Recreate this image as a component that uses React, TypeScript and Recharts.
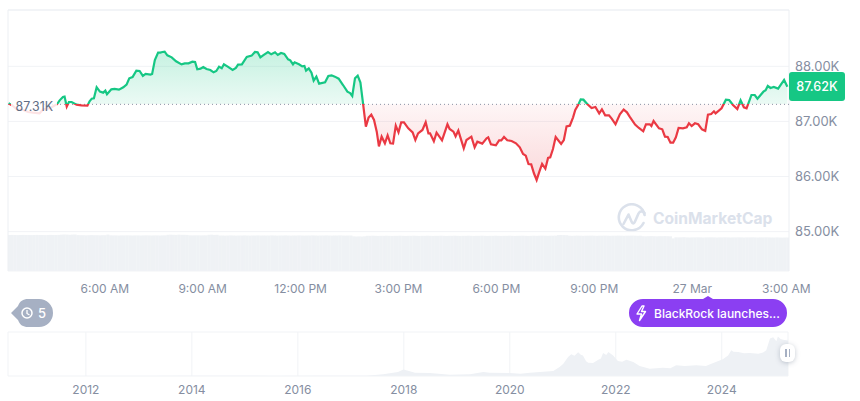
import React from "react";
import {
  ComposedChart, Area, Line, XAxis, YAxis, CartesianGrid, ReferenceLine,
  BarChart, Bar, AreaChart,
} from "recharts";

const FONT = "Inter, 'Noto Sans', sans-serif";
const BASE = 87310;
const LAST_PRICE = "87.62K";
const BASE_LABEL = "87.31K";

// minutes after 00:00 on 26 Mar
const minutes = [183,191,198,210,219,228,240,247,259,272,277,283,286,290,294,299,308,317,328,332,336,340,345,351,357,361,364,372,378,386,394,400,405,411,418,424,430,435,444,447,452,458,462,466,470,475,483,491,501,507,514,521,526,530,536,541,547,554,560,565,570,575,579,586,595,601,605,612,621,630,636,641,646,651,660,666,673,678,684,690,697,701,706,709,717,723,727,730,735,740,744,749,754,765,771,777,783,790,798,806,811,815,820,825,830,835,840,845,850,855,860,864,869,875,880,885,890,895,900,905,910,918,926,931,936,944,950,955,958,965,970,980,990,994,1001,1005,1010,1020,1025,1034,1040,1045,1054,1062,1065,1070,1079,1085,1089,1094,1100,1108,1116,1123,1129,1134,1139,1144,1149,1154,1159,1164,1170,1175,1179,1184,1189,1199,1204,1209,1215,1221,1225,1230,1235,1240,1247,1255,1262,1269,1274,1280,1287,1292,1299,1307,1314,1320,1325,1335,1342,1350,1355,1362,1365,1369,1379,1385,1390,1395,1400,1405,1410,1415,1423,1430,1434,1439,1445,1451,1458,1464,1469,1475,1480,1483,1494,1502,1508,1515,1523,1529,1535,1540,1549,1555,1560,1571,1575,1579,1584,1590,1598,1609,1615];
const prices = [87329,87280,87220,87208,87171,87159,87147,87220,87238,87311,87383,87444,87450,87268,87353,87353,87304,87292,87286,87365,87413,87419,87619,87540,87522,87558,87492,87583,87589,87577,87619,87667,87782,87806,87921,87915,87825,87861,87849,87861,88115,88248,88248,88260,88266,88200,88163,88091,88036,88054,88054,88085,88079,87946,87958,87988,87952,87933,87891,87915,87994,87964,88036,87994,87933,87970,88030,88036,88169,88194,88260,88254,88163,88200,88260,88218,88254,88206,88242,88224,88127,88109,88036,88073,88036,88000,88006,87921,87964,87885,87740,87813,87686,87710,87825,87837,87813,87776,87661,87540,87516,87462,87782,87831,87704,87311,86905,87069,87123,87026,86815,86548,86724,86603,86748,86603,86597,86923,86802,86984,86984,86875,86802,86663,86784,86845,86984,86784,86784,86639,86796,86657,86948,86863,86815,86730,86833,86512,86663,86724,86530,86633,86597,86694,86712,86585,86567,86657,86657,86718,86657,86645,86603,86530,86409,86379,86228,86222,86059,85938,86089,86228,86143,86337,86349,86500,86718,86591,86663,86911,86923,87075,87208,87292,87401,87395,87317,87244,87262,87147,87220,87111,87111,87050,86948,87129,87214,87165,87087,86942,86881,86821,86948,86948,86917,87008,86875,86857,86724,86718,86615,86615,86712,86881,86875,86893,86966,86917,86966,86948,86857,86827,87123,87135,87184,87147,87238,87395,87389,87298,87226,87383,87256,87238,87480,87480,87413,87540,87565,87643,87607,87625,87595,87752,87631];

const priceTicks = [85000, 86000, 87000, 88000];
const timeTicks = [360, 540, 720, 900, 1080, 1260, 1440, 1613];
const timeLabels = ["6:00 AM", "9:00 AM", "12:00 PM", "3:00 PM", "6:00 PM", "9:00 PM", "27 Mar", "3:00 AM"];

// 24h volume per five-minute bar
const volumes = [
  36,36.1,36,35.9,36,36.1,36,36,35.9,36,36.1,36,36,35.9,36,36.1,36,36,36.1,36.3,36.5,36.4,36.2,36.4,36.5,
  35.9,35.8,35.8,35.7,35.8,35.9,35.8,35.8,35.7,35.8,35.8,36.4,35.7,35.6,35.6,35.5,35.6,35.6,35.7,35.6,35.5,35.6,35.6,35.5,35.6,35.7,35.6,35.5,35.6,35.6,35.5,35.6,35.7,
  36.2,36.3,36.2,36.1,36.3,36.2,36.2,36.1,35.7,35.6,35.7,35.7,35.6,35.7,35.7,36.2,36.3,36.1,36.2,
  35.5,35.5,35.4,35.5,35.6,35.5,35.4,35.5,35.5,35.6,35.5,35.4,35.5,35.5,35.6,35.5,35.4,35.5,35.5,35.6,35.5,35.4,35.5,35.5,35.6,35.5,35.4,35.5,35.5,35.6,35.5,35.4,35.5,35.5,35.6,35.5,35.4,35.5,35.5,35.6,35.5,35.4,35.5,35.5,35.6,35.5,35.4,35.5,35.5,
  34.7,34.5,34.6,34.5,34.7,
  35.2,35.2,35.3,35.2,35.1,35.2,35.2,35.3,35.2,35.1,35.2,35.2,35.3,35.2,35.1,35.2,35.2,35.3,35.2,35.1,35.2,35.2,35.3,35.2,35.1,35.2,35.2,35.3,35.2,35.1,35.2,35.2,35.3,35.2,35.1,35.2,35.2,35.3,35.2,35.1,35.2,35.2,35.3,35.2,35.1,35.2,35.2,35.3,35.2,35.1,35.2,35.2,35.3,35.2,35.1,35.2,35.2,35.3,35.2,35.1,35.2,
  35.3,35.2,35.3,35.4,35.3,35.2,35.3,35.3,35.4,
  35.9,36,35.9,35.8,
  35.3,35.2,35.3,35.4,35.3,35.2,35.3,35.3,35.4,35.3,35.2,35.3,35.3,35.4,35.3,35.2,35.3,35.3,35.4,35.3,35.2,35.3,35.3,35.4,35.3,35.2,35.3,
  34.8,34.7,34.8,34.9,34.8,34.7,34.8,34.8,34.9,34.8,34.7,
  32.6,
  33.7,33.6,33.7,33.8,33.6,33.5,33.6,33.6,33.7,33.6,33.5,33.6,33.6,33.7,33.6,33.5,33.6,33.6,33.7,33.6,33.5,33.6,33.6,33.7,33.6,33.5,33.6,33.6,33.7,33.6,33.5,33.6,33.6,33.7,33.6,33.5,33.5,33.6,33.5,33.4,33.5,33.5,
];

const historyYears = [2010.6,2013.2,2013.9,2015.5,2016.5,2017.3,2017.61,2017.89,2017.99,2018.08,2018.21,2018.49,2018.87,2019.25,2019.5,2019.62,2020,2020.2,2020.38,2020.82,2020.94,2021.01,2021.1,2021.16,2021.22,2021.29,2021.34,2021.38,2021.44,2021.48,2021.57,2021.67,2021.72,2021.76,2021.82,2021.86,2021.95,2022.04,2022.12,2022.2,2022.33,2022.45,2022.64,2022.89,2023.03,2023.14,2023.3,2023.52,2023.7,2023.84,2024.02,2024.12,2024.18,2024.22,2024.31,2024.42,2024.53,2024.69,2024.78,2024.84,2024.91,2024.97,2025.03,2025.06,2025.11,2025.16,2025.25];
const historyPrices = [0,0.1,0.8,0.3,0.7,1,4.5,11,18,14,9,8,3.6,4.5,11,9,8,6,9,13.6,24.5,33.6,52,59,55,64.5,58,56,40,36,35.5,44.5,48,62.7,57,65.5,56,41,39,44.5,38,27,20,22.7,21,29,27,29,27,35.5,45.5,56,70,66,65.5,62,62.7,61,64,70,102,106,95,108,101,99,97];
const yearTicks = [2012, 2014, 2016, 2018, 2020, 2022, 2024];

const priceRows = minutes.map((t, i) => ({ t, price: prices[i] }));
const volumeRows = volumes.map((volume, i) => ({ i, volume }));
const historyRows = historyYears.map((year, i) => ({ year, price: historyPrices[i] }));

const PRICE_DOMAIN: [number, number] = [84286, 89022];
const baseFrac = (PRICE_DOMAIN[1] - BASE) / (PRICE_DOMAIN[1] - PRICE_DOMAIN[0]);
const GREEN = "#16c784";
const RED = "#ea3943";
const AXIS = "#858ea1";
const GRID = "#f1f3f6";
const BORDER = "#eceff3";
const MARK = "#dbe1eb";

const abs = (left: number, top: number): React.CSSProperties => ({ position: "absolute", left, top });

export default function App() {
  return (
    <div style={{ position: "absolute", left: 0, top: 0, width: 860, height: 401, background: "#fff", overflow: "hidden", fontFamily: FONT }}>
      {/* volume */}
      <div style={abs(8, 10)}>
        <BarChart width={781} height={261} data={volumeRows} margin={{ top: 0, right: 0, bottom: 0, left: 0 }} barCategoryGap="3%">
          <XAxis dataKey="i" hide />
          <YAxis hide domain={[0, 261]} />
          <Bar dataKey="volume" fill="#eff2f5" isAnimationActive={false} />
        </BarChart>
      </div>

      {/* watermark */}
      <svg style={abs(616, 203)} width={32} height={32} viewBox="0 0 32 32" fill="none">
        <path d="M27.5 20 A13 13 0 1 1 28.6 12" stroke={MARK} strokeWidth={2.6} strokeLinecap="round" />
        <path d="M7.5 21 L12.5 11.5 L15.5 18.5 C16.5 21 18 21 19 18.5 L22.5 10.5 C24 7.5 27 8 28.6 10" stroke={MARK} strokeWidth={2.6} strokeLinecap="round" strokeLinejoin="round" />
      </svg>
      <div style={{ ...abs(653, 208), fontSize: 15.6, fontWeight: 700, color: MARK, lineHeight: "22px", whiteSpace: "nowrap" }}>CoinMarketCap</div>

      {/* price */}
      <div style={abs(0, 0)}>
        <ComposedChart width={860} height={300} data={priceRows} margin={{ top: 10, right: 0, bottom: 0, left: 8 }}>
          <defs>
            <linearGradient id="fillSplit" gradientUnits="userSpaceOnUse" x1={0} y1={10} x2={0} y2={271}>
              <stop offset={0} stopColor={GREEN} stopOpacity={0.46} />
              <stop offset={0.146} stopColor={GREEN} stopOpacity={0.42} />
              <stop offset={baseFrac} stopColor={GREEN} stopOpacity={0.14} />
              <stop offset={baseFrac} stopColor={RED} stopOpacity={0.08} />
              <stop offset={0.655} stopColor={RED} stopOpacity={0.32} />
              <stop offset={1} stopColor={RED} stopOpacity={0.32} />
            </linearGradient>
            <linearGradient id="strokeSplit" gradientUnits="userSpaceOnUse" x1={0} y1={10} x2={0} y2={271}>
              <stop offset={baseFrac} stopColor={GREEN} />
              <stop offset={baseFrac} stopColor={RED} />
            </linearGradient>
          </defs>
          <CartesianGrid horizontal vertical={false} stroke={GRID} />
          <XAxis
            dataKey="t" type="number" domain={[182, 1618]} allowDataOverflow
            ticks={timeTicks} interval={0} height={29} axisLine={false} tickLine={false} tickMargin={7}
            tick={{ fontSize: 12, fill: AXIS, fontFamily: FONT }}
            tickFormatter={(v: number) => timeLabels[timeTicks.indexOf(v)]}
          />
          <YAxis
            orientation="right" width={71} domain={PRICE_DOMAIN} allowDataOverflow ticks={priceTicks} interval={0}
            axisLine={false} tickLine={false} tickMargin={0}
            tick={{ fontSize: 13, fill: AXIS, fontFamily: FONT }}
            tickFormatter={(v: number) => `${(v / 1000).toFixed(2)}K`}
          />
          <ReferenceLine y={PRICE_DOMAIN[1]} stroke={BORDER} />
          <ReferenceLine x={182} stroke={BORDER} />
          <ReferenceLine x={1618} stroke={BORDER} />
          <Area dataKey={(d: { price: number }) => [BASE, d.price]} stroke="none" fill="url(#fillSplit)" type="linear" isAnimationActive={false} dot={false} activeDot={false} />
          <ReferenceLine y={BASE} stroke="#8a92a3" strokeDasharray="1 3" />
          <Line dataKey="price" type="linear" stroke="url(#strokeSplit)" strokeWidth={2.2} dot={false} activeDot={false} isAnimationActive={false} />
        </ComposedChart>
      </div>

      {/* baseline label */}
      <div style={{ ...abs(11, 96), width: 46, height: 22, background: "rgba(255,255,255,0.86)", fontSize: 12.4, color: "#616e85", lineHeight: "21px", textAlign: "right", whiteSpace: "nowrap", paddingRight: 4, boxSizing: "border-box" }}>{BASE_LABEL}</div>

      {/* last price tag */}
      <div style={{ ...abs(789, 72), width: 56, height: 29, borderRadius: 3, background: GREEN, color: "#fff", fontSize: 12.6, fontWeight: 500, lineHeight: "29px", textAlign: "center" }}>{LAST_PRICE}</div>

      {/* history pill */}
      <svg style={abs(8, 297)} width={50} height={32} viewBox="0 0 50 32">
        <path d="M3 16 L10 9 C12 4 15 2 20 2 L31 2 A14 14 0 0 1 31 30 L20 30 C15 30 12 28 10 23 Z" fill="#a6b0c3" />
        <circle cx="19" cy="16" r="5" fill="none" stroke="#fff" strokeWidth="1.5" />
        <path d="M19 13 L19 16.5 L21.5 18" fill="none" stroke="#fff" strokeWidth="1.3" />
        <text x="34" y="21" fontSize="13" fontWeight={500} fill="#fff" textAnchor="middle" fontFamily={FONT}>5</text>
      </svg>

      {/* event pill */}
      <svg style={abs(627, 293)} width={162} height={36} viewBox="0 0 162 36">
        <path d="M76 6 L81 3 L86 6 L146 6 A14 14 0 0 1 146 34 L16 34 A14 14 0 0 1 16 6 Z" fill="#8b3ff2" />
        <path d="M15 13 L10 21 L14.5 21 L12.5 27.5 L18.5 18.5 L14.5 18.5 L17 13 Z" fill="none" stroke="#fff" strokeWidth="1.4" strokeLinejoin="round" />
        <text x="27" y="24.5" fontSize="12" fontWeight={500} fill="#fff" fontFamily={FONT}>BlackRock launches...</text>
      </svg>

      {/* navigator */}
      <div style={abs(0, 320)}>
        <AreaChart width={860} height={81} data={historyRows} margin={{ top: 12, right: 72, bottom: 0, left: 8 }}>
          <CartesianGrid vertical horizontal={false} stroke={GRID} />
          <XAxis
            dataKey="year" type="number" domain={[2010.53, 2025.25]} ticks={yearTicks} interval={0} height={25}
            axisLine={{ stroke: GRID }} tickLine={false} tickMargin={3}
            tick={{ fontSize: 12, fill: AXIS, fontFamily: FONT }}
          />
          <YAxis hide domain={[0, 120]} />
          <ReferenceLine y={120} stroke={GRID} />
          <Area dataKey="price" type="linear" stroke="none" fill="#eef1f5" fillOpacity={1} isAnimationActive={false} dot={false} activeDot={false} />
        </AreaChart>
      </div>

      {/* navigator handle */}
      <div style={{ ...abs(780, 344), width: 15, height: 18, borderRadius: 6, background: "#fff", boxShadow: "0 1px 5px rgba(88,102,126,0.35)" }}>
        <div style={{ ...abs(5, 5), width: 1.5, height: 8, background: "#a6b0c3" }} />
        <div style={{ ...abs(8.5, 5), width: 1.5, height: 8, background: "#a6b0c3" }} />
      </div>
    </div>
  );
}
